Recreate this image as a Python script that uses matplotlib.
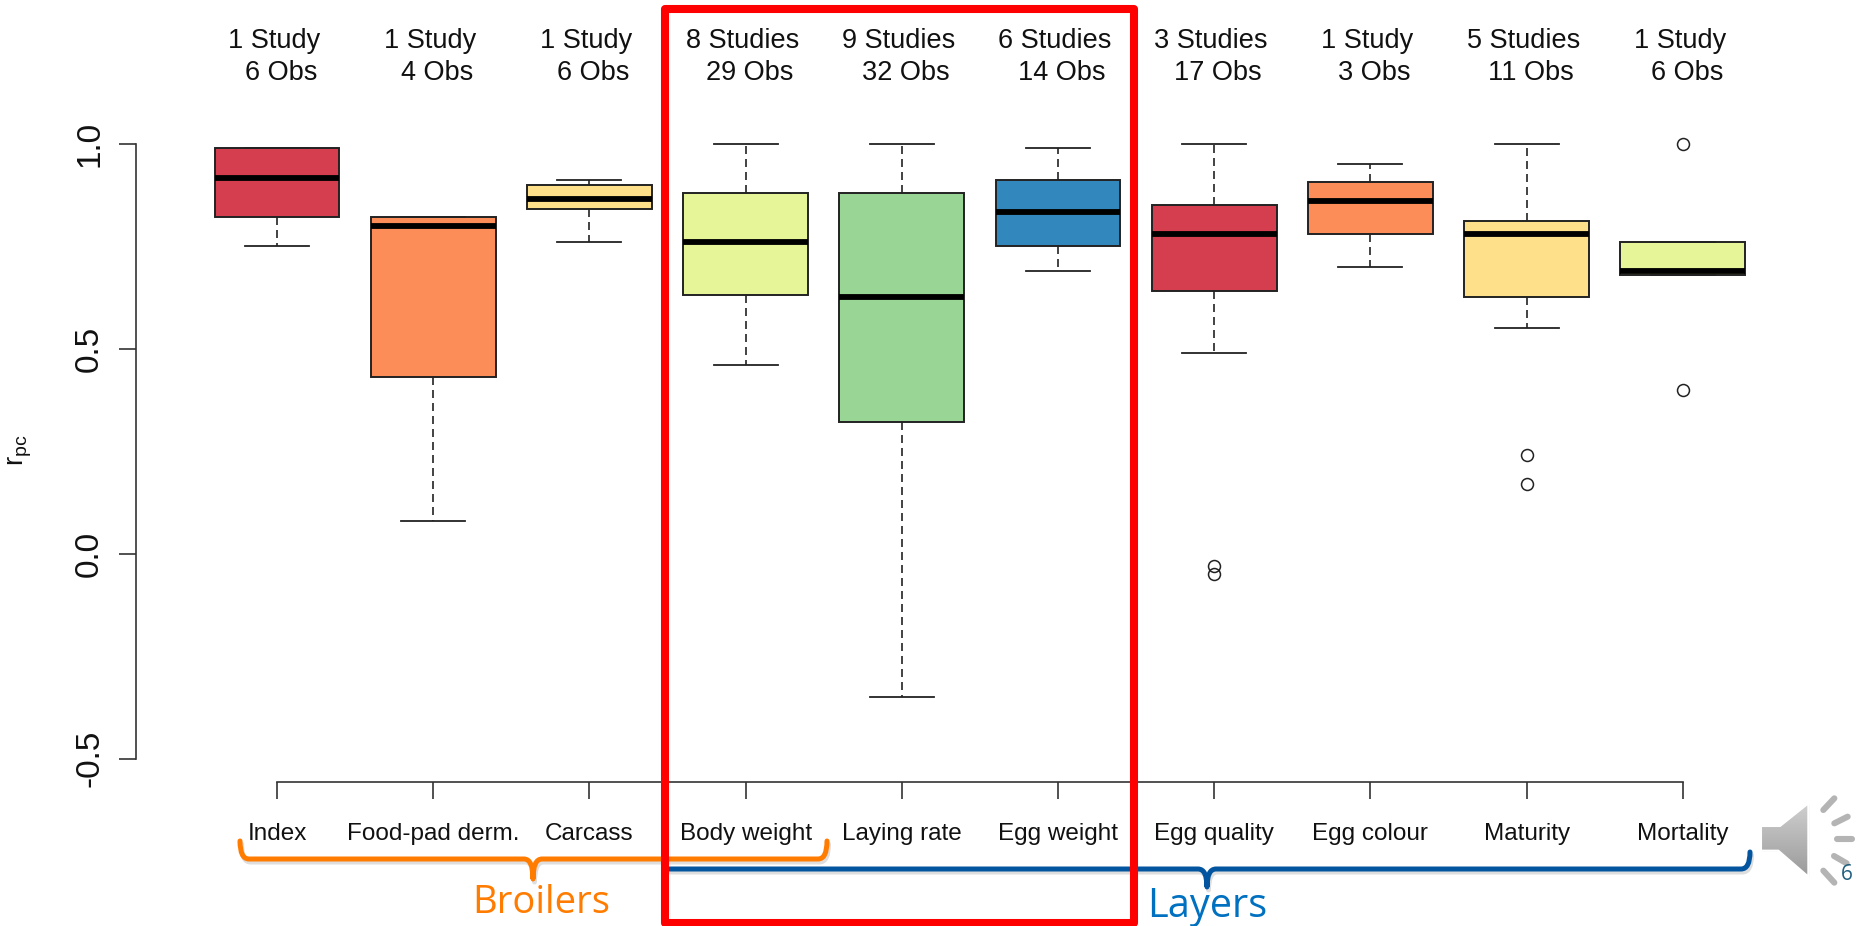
import matplotlib
matplotlib.use("Agg")
import matplotlib.pyplot as plt
import numpy as np
from matplotlib.path import Path
from matplotlib.patches import PathPatch, Polygon, Rectangle

plt.rcParams['font.family'] = ['Liberation Sans', 'DejaVu Sans']
plt.rcParams['mathtext.fontset'] = 'custom'
plt.rcParams['mathtext.rm'] = 'Liberation Sans'
plt.rcParams['mathtext.default'] = 'rm'

categories = ["Index", "Food-pad derm.", "Carcass", "Body weight", "Laying rate",
              "Egg weight", "Egg quality", "Egg colour", "Maturity", "Mortality"]
studies = ["1 Study", "1 Study", "1 Study", "8 Studies", "9 Studies",
           "6 Studies", "3 Studies", "1 Study", "5 Studies", "1 Study"]
obs = ["6 Obs", "4 Obs", "6 Obs", "29 Obs", "32 Obs",
       "14 Obs", "17 Obs", "3 Obs", "11 Obs", "6 Obs"]
whisker_low = [0.75, 0.08, 0.76, 0.46, -0.35, 0.69, 0.49, 0.70, 0.55, 0.68]
q1 = [0.82, 0.43, 0.84, 0.63, 0.32, 0.75, 0.64, 0.78, 0.625, 0.68]
median = [0.915, 0.80, 0.864, 0.76, 0.625, 0.834, 0.78, 0.86, 0.78, 0.69]
q3 = [0.99, 0.82, 0.90, 0.88, 0.88, 0.91, 0.85, 0.905, 0.81, 0.76]
whisker_high = [0.99, 0.82, 0.91, 1.00, 1.00, 0.99, 1.00, 0.95, 1.00, 0.76]
outliers = [[], [], [], [], [], [], [-0.03, -0.05], [], [0.24, 0.17], [1.00, 0.40]]
colors = ["#D53E4F", "#FC8D59", "#FEE08B", "#E6F598", "#99D594",
          "#3288BD", "#D53E4F", "#FC8D59", "#FEE08B", "#E6F598"]
y_ticks = [-0.5, 0.0, 0.5, 1.0]

W, H = 1858, 926
fig = plt.figure(figsize=(W / 100, H / 100), dpi=100, facecolor="white")

# plot axes: left spine at x=136 px, bottom spine at y=782 px
ax = fig.add_axes([136 / W, 1 - 782 / H, (W - 136) / W, 782 / H])
ax.patch.set_alpha(0)
ax.set_xlim(1 + (136 - 277) / 156.2, 1 + (W - 277) / 156.2)
ax.set_ylim(1 - (782 - 143.5) / 410, 1 + 143.5 / 410)

stats = [dict(whislo=a, q1=b, med=c, q3=d, whishi=e, fliers=f)
         for a, b, c, d, e, f in zip(whisker_low, q1, median, q3, whisker_high, outliers)]
positions = np.arange(1, len(categories) + 1)
edge = "#222222"
bp = ax.bxp(stats, positions=positions, widths=0.8, capwidths=0.41, patch_artist=True,
            manage_ticks=False,
            boxprops=dict(edgecolor=edge, linewidth=1.4),
            medianprops=dict(color="black", linewidth=4.2, solid_capstyle="butt"),
            whiskerprops=dict(color=edge, linewidth=1.2, linestyle=(0, (4.8, 3.0))),
            capprops=dict(color=edge, linewidth=1.3),
            flierprops=dict(marker="o", markersize=8.6, markerfacecolor="none",
                            markeredgecolor=edge, markeredgewidth=1.1))
for box, c in zip(bp["boxes"], colors):
    box.set_facecolor(c)

for s in ("top", "right"):
    ax.spines[s].set_visible(False)
ax.spines["left"].set_bounds(-0.5, 1.0)
ax.spines["bottom"].set_bounds(1, len(categories))
for s in ("left", "bottom"):
    ax.spines[s].set_linewidth(1.2)
    ax.spines[s].set_color("#333333")

ax.set_yticks(y_ticks)
ax.set_yticklabels([f"{v:.1f}" for v in y_ticks], rotation=90, va="center", fontsize=24)
ax.tick_params(axis="y", length=12.2, width=1.2, color="#333333", pad=10, labelcolor="#111111")
ax.set_xticks(positions)
ax.set_xticklabels(categories, fontsize=17.5)
ax.tick_params(axis="x", length=12.2, width=1.2, color="#333333", pad=17, labelcolor="#111111")

ax.set_ylabel(r"r$_{\mathrm{pc}}$", fontsize=20, color="#111111")
ax.yaxis.set_label_coords((34 - 136) / (W - 136), (782 - 450) / 782)

for x, a, b in zip(positions, studies, obs):
    ax.annotate(a, xy=(x, 1.0), xytext=(-3, 102), textcoords="offset pixels",
                ha="center", va="center", fontsize=19.5, color="#111111", annotation_clip=False)
    ax.annotate(b, xy=(x, 1.0), xytext=(4, 70), textcoords="offset pixels",
                ha="center", va="center", fontsize=19.5, color="#111111", annotation_clip=False)

# overlay in pixel coordinates for the slide decorations
ov = fig.add_axes([0, 0, 1, 1], zorder=5)
ov.set_xlim(0, W)
ov.set_ylim(H, 0)
ov.axis("off")
ov.patch.set_alpha(0)

M, L, C = Path.MOVETO, Path.LINETO, Path.CURVE3


def stroke(verts, codes, color, z=3):
    shadow = PathPatch(Path(np.array(verts) + [1.5, 3], codes), fc="none", ec="#000000",
                       lw=3.6, alpha=0.13, capstyle="round", joinstyle="round", zorder=z - 1)
    ov.add_patch(shadow)
    ov.add_patch(PathPatch(Path(verts, codes), fc="none", ec=color, lw=3.6,
                           capstyle="round", joinstyle="round", zorder=z))


orange = "#FF7C00"
blue = "#04559F"
stroke([(240, 841), (240, 859), (249, 859), (524, 859), (533, 859), (533, 879),
        (533, 859), (542, 859), (818, 859), (827, 859), (827, 841)],
       [M, C, C, L, C, C, C, C, L, C, C], orange)
stroke([(669, 869), (1198, 869), (1207, 869), (1207, 887), (1207, 869), (1216, 869),
        (1741, 869), (1750, 869), (1750, 852)],
       [M, L, C, C, C, C, L, C, C], blue)

ov.text(541, 903, "Broilers", family="Open Sans", fontsize=27.5, color="#FF7C00", ha="center", va="center")
ov.text(1207, 907, "Layers", family="Open Sans", fontsize=28.5, color="#0070C0", ha="center", va="center")

ov.add_patch(Rectangle((665, 9), 469, 914, fc="none", ec="#FF0000", lw=5.8,
                       joinstyle="round", zorder=6))

# speaker icon
pts = np.array([(333, 198), (390, 198), (475, 130), (475, 350), (385, 272), (333, 272)]) / 3 + [1650, 760]
ov.add_patch(Polygon(pts + [1, 1], closed=True, fc="#000000", ec="none", alpha=0.08, zorder=3))
poly = Polygon(pts, closed=True, fc="none", ec="white", lw=1.5, joinstyle="round", zorder=5)
ov.add_patch(poly)
grad = np.linspace(0, 1, 64).reshape(-1, 1)
im = ov.imshow(grad, extent=(pts[:, 0].min(), pts[:, 0].max(), pts[:, 1].max(), pts[:, 1].min()),
               cmap=matplotlib.colors.LinearSegmentedColormap.from_list("g", ["#CFCFCF", "#9A9A9A"]),
               aspect="auto", zorder=4)
im.set_clip_path(poly)
ov.set_xlim(0, W)
ov.set_ylim(H, 0)
rays = [((520, 150), (553, 115)), ((553, 190), (593, 170)), ((560, 238), (605, 238)),
        ((552, 288), (590, 310)), ((520, 332), (553, 368))]
for a, b in rays:
    xs = [1650 + a[0] / 3, 1650 + b[0] / 3]
    ys = [760 + a[1] / 3, 760 + b[1] / 3]
    ov.plot(xs, ys, color="#B4B4B4", lw=4.4, solid_capstyle="round", zorder=4)
ov.text(1847, 874, "6", family="Open Sans", fontsize=15, color="#1F5F7F", ha="center", va="center", zorder=7)

fig.savefig("out.png", dpi=100, facecolor="white")
